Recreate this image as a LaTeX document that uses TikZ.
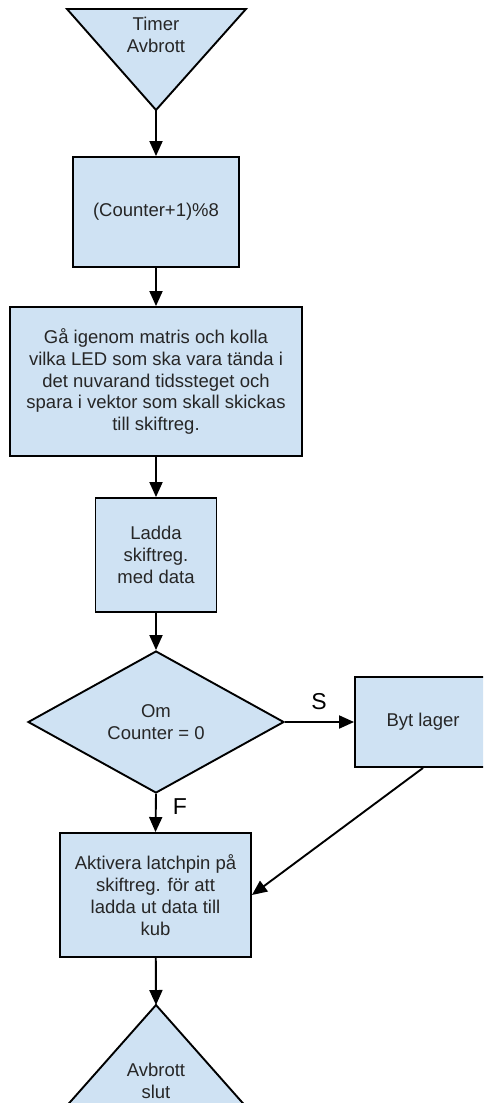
\documentclass[tikz,border=0pt]{standalone}
\usepackage{fontspec}
\setmainfont{Liberation Sans}
\usetikzlibrary{arrows.meta,shapes.geometric}
\definecolor{boxfill}{HTML}{CFE2F3}
\definecolor{txt}{HTML}{262626}
\begin{document}
\begin{tikzpicture}[x=1pt,y=-1pt,
  outline/.style={draw, line width=1.9pt, fill=boxfill, line join=miter},
  flowtext/.style={text=txt, font=\fontsize{18.5}{21.8}\selectfont, align=center, inner sep=0pt},
  proc/.style={outline, flowtext, rectangle},
  dec/.style={outline, flowtext, diamond},
  conn/.style={-{Triangle[length=15pt,width=13pt]}, line width=1.9pt},
  lbl/.style={font=\fontsize{23}{26}\selectfont, text=black, inner sep=0pt}]
\useasboundingbox (0,0) rectangle (483,1103);
\clip (0,0) rectangle (483,1103);
% start triangle
\draw[outline] (67,9) -- (246,9) -- (156,110) -- cycle;
\coordinate (startapex) at (156,110);
\node[flowtext] (start) at (156,35) {Timer\\Avbrott};
% boxes
\node[proc, minimum width=166pt, minimum height=110pt] (count) at (156,212) {(Counter+1)\%8};
\node[proc, minimum width=292pt, minimum height=149pt] (scan) at (156,381.5)
  {Gå igenom matris och kolla\\vilka LED som ska vara tända i\\det nuvarand tidssteget och\\spara i vektor som skall skickas\\till skiftreg.};
\node[proc, minimum width=121pt, minimum height=114pt] (load) at (156,555) {Ladda\\skiftreg.\\med data};
\node[dec, minimum width=256pt, minimum height=142pt] (check) at (156,722) {Om\\Counter = 0};
\node[proc, minimum width=136pt, minimum height=90pt] (layer) at (423,722) {Byt lager};
\node[proc, minimum width=191pt, minimum height=124pt] (latch) at (155.5,895)
  {Aktivera latchpin på\\skiftreg. för att\\ladda ut data till\\kub};
% end triangle
\draw[outline] (156,1005) -- (256,1118) -- (56,1118) -- cycle;
\coordinate (endapex) at (156,1005);
\node[flowtext] (stop) at (156,1081) {Avbrott\\slut};
% connectors
\draw[conn] (startapex) -- (count);
\draw[conn] (count) -- (scan);
\draw[conn] (scan) -- (load);
\draw[conn] (load) -- (check);
\draw[conn] (check.east) -- (layer.west);
\draw[conn] (check.south) -- (latch.north);
\draw[conn] (layer.south) -- (latch.east);
\draw[conn] (latch) -- (endapex);
% labels
\node[lbl] (slabel) at (319,702) {S};
\node[lbl] (flabel) at (180,807) {F};
\end{tikzpicture}
\end{document}
